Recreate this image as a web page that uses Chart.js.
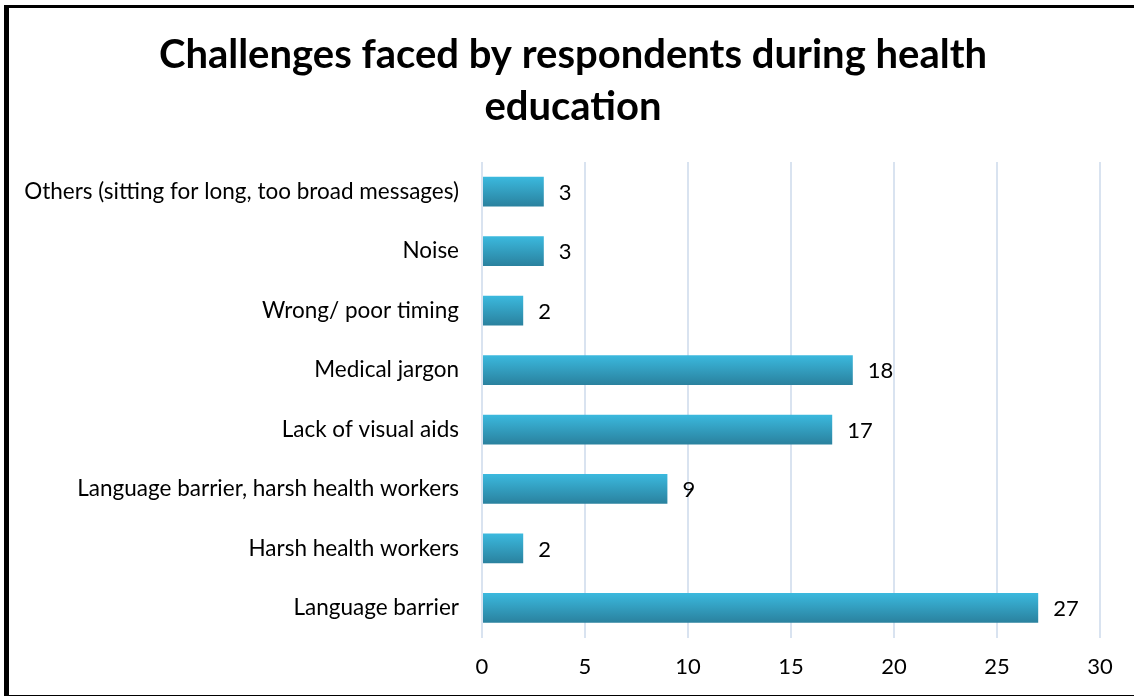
<!DOCTYPE html>
<html>
<head>
<meta charset="utf-8">
<script src="https://cdn.jsdelivr.net/npm/chart.js@4/dist/chart.umd.min.js"></script>
<style>
  html, body { margin: 0; padding: 0; background: #fff; }
  #marco {
    position: absolute; left: 4px; top: 5px; width: 1130px; height: 687px;
    border-left: 5px solid #000; border-top: 3px solid #000; border-bottom: 2px solid #000;
  }
  #grafico { position: absolute; left: 0; top: 0; }
</style>
</head>
<body>
<div id="marco"></div>
<canvas id="grafico" width="1134" height="696"></canvas>
<script>
var categorias = [
  "Others (sitting for long, too broad messages)",
  "Noise",
  "Wrong/ poor timing",
  "Medical jargon",
  "Lack of visual aids",
  "Language barrier, harsh health workers",
  "Harsh health workers",
  "Language barrier",
];
var valores = [3, 3, 2, 18, 17, 9, 2, 27];
var ticks_x = [0, 5, 10, 15, 20, 25, 30];

var fuente = "Lato, 'Open Sans', sans-serif";

// relleno degradado de cada barra, de arriba (claro) a abajo (oscuro)
function degradado(context) {
  var chart = context.chart;
  var y = chart.scales.y;
  if (!chart.chartArea || !y || context.dataIndex === undefined) return "#33a9cb";
  var centro = y.getPixelForValue(context.dataIndex);
  var paso = (y.bottom - y.top) / categorias.length;
  var mitad = paso * 0.25;
  var g = chart.ctx.createLinearGradient(0, centro - mitad, 0, centro + mitad);
  g.addColorStop(0, "#3bb9de");
  g.addColorStop(1, "#2a819e");
  return g;
}

// numeros a la derecha de las barras
var etiquetas = {
  id: "etiquetas",
  afterDatasetsDraw: function (chart) {
    var ctx = chart.ctx;
    var meta = chart.getDatasetMeta(0);
    ctx.save();
    ctx.font = "22px " + fuente;
    ctx.fillStyle = "#000";
    ctx.textAlign = "left";
    ctx.textBaseline = "middle";
    meta.data.forEach(function (bar, i) {
      ctx.fillText(String(valores[i]), bar.x + 15, bar.y + 1);
    });
    ctx.restore();
  },
};

// corre el titulo un poco a la derecha
var mover_titulo = {
  id: "mover_titulo",
  afterLayout: function (chart) {
    if (chart.titleBlock) {
      chart.titleBlock.left += 23;
      chart.titleBlock.right += 23;
    }
  },
};

var ctx = document.getElementById("grafico").getContext("2d");
var myChart = new Chart(ctx, {
  type: "bar",
  data: {
    labels: categorias,
    datasets: [
      {
        data: valores,
        backgroundColor: degradado,
        borderWidth: 0,
        categoryPercentage: 0.5,
        barPercentage: 1,
      },
    ],
  },
  options: {
    indexAxis: "y",
    responsive: false,
    animation: false,
    layout: {
      padding: { left: 0, right: 34, top: 21, bottom: 0 },
    },
    scales: {
      x: {
        min: 0,
        max: 30,
        afterBuildTicks: function (scale) {
          scale.ticks = ticks_x.map(function (v) { return { value: v }; });
        },
        grid: { color: "#d9e3f0", lineWidth: 2, drawTicks: false },
        border: { display: false },
        ticks: { color: "#000", padding: 16, font: { family: fuente, size: 22 } },
      },
      y: {
        afterFit: function (scale) { scale.width = 482; },
        grid: { display: false, drawTicks: false },
        border: { display: false },
        ticks: { color: "#000", padding: 23, font: { family: fuente, size: 22.5 } },
      },
    },
    plugins: {
      legend: { display: false },
      tooltip: { enabled: false },
      title: {
        display: true,
        text: ["Challenges faced by respondents during health", "education"],
        color: "#000",
        font: { family: fuente, size: 40, weight: "bold", lineHeight: 1.3 },
        padding: { top: 8, bottom: 29 },
      },
    },
  },
  plugins: [etiquetas, mover_titulo],
});
</script>
</body>
</html>
